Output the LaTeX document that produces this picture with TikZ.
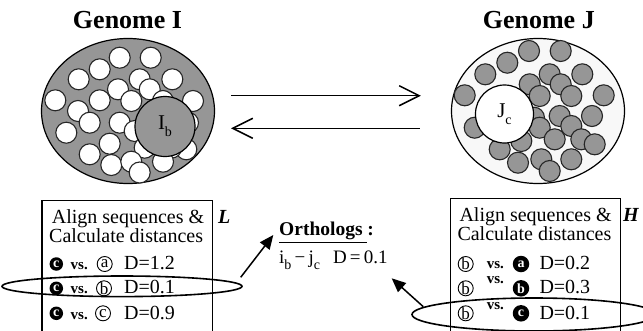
\documentclass[tikz,border=0pt]{standalone}
\usepackage{fontspec}
\setmainfont{Liberation Serif}
\usetikzlibrary{arrows.meta,shapes.geometric,calc}
\definecolor{cellgray}{RGB}{150,150,150}
\definecolor{palefill}{RGB}{248,248,248}
\newcommand{\lowsub}[1]{\raisebox{-0.35em}{\fontsize{14}{14}\selectfont #1}}
\begin{document}
\begin{tikzpicture}[x=1pt,y=-1pt,
  title/.style={font=\fontsize{26}{30}\selectfont\bfseries, anchor=base, inner sep=0},
  body/.style={font=\fontsize{20}{24}\selectfont, anchor=base west, inner sep=0},
  tag/.style={font=\fontsize{20}{24}\selectfont\bfseries\itshape, anchor=base west, inner sep=0},
  vsword/.style={font=\fontsize{15}{15}\selectfont\bfseries, anchor=base west, inner sep=0},
  genome/.style={ellipse, draw, line width=1.2pt, minimum width=173pt, minimum height=145pt, inner sep=0},
  wcell/.style={draw=black!85, fill=white, line width=1.1pt},
  gcell/.style={draw=black!85, fill=cellgray, line width=1.1pt},
  bigcell/.style={circle, draw, line width=1.2pt, inner sep=0, font=\fontsize{21}{21}\selectfont},
  panel/.style={draw, line width=1.3pt, anchor=north west, inner sep=0, minimum height=160pt},
  ring/.style={ellipse, draw, line width=1.6pt, inner sep=0},
  blk/.style={circle, fill=black, text=white, inner sep=0, font=\fontsize{14}{14}\selectfont\bfseries},
  wht/.style={circle, draw, line width=0.9pt, inner sep=0, minimum size=15pt, font=\fontsize{17}{17}\selectfont},
  swap/.style={line width=1.5pt, -{Straight Barb[length=20pt,width=20pt,line width=1.5pt]}},
  pick/.style={line width=1.5pt, -{Triangle[length=14pt,width=12pt]}}
]
\useasboundingbox (0,0) rectangle (643,330);
\clip (0,0) rectangle (643,330);

% titles
\node[title] (titleI) at (127.5,28.3) {Genome I};
\node[title] (titleJ) at (538.8,28) {Genome J};

% genome I: white genes on a gray background
\node[genome, fill=cellgray] (gI) at (128,111) {};
\foreach \x/\y in {119.7/57.7, 150.7/57.7, 99.7/69.3, 78.7/79.3, 172.3/79.3,
  139.7/79.3, 118/89.3, 149.7/89.3, 55.3/100.3, 99.7/100.3, 131.3/101,
  193/101, 163/101, 78/111, 89.7/122.7, 119.7/122.7, 66.3/132.7, 134.7/131,
  188/122.7, 109.7/143.7, 89.7/154.3, 144.7/147.7, 186.3/149.3, 171.3/147.7,
  111.3/165, 131.3/161.7, 163/161.7, 139.7/172.5}
  \filldraw[wcell] (\x,\y) circle[radius=10.5];
\node[bigcell, fill=cellgray, minimum size=60pt] (Ib) at (165,126.5) {I\lowsub{b}};

% genome J: gray genes on a pale background
\node[genome, fill=palefill] (gJ) at (538,111) {};
\foreach \x/\y in {529/51, 560.7/51, 507.3/62.7, 485.3/74.3, 549.7/74.3,
  582.3/74.3, 529.7/84.3, 560.7/84.3, 464.7/95.3, 539.7/96, 571.3/96,
  603.7/95.3, 474.7/127.7, 559.7/116, 592/116, 534/117.7, 539.7/127.7,
  571.3/126, 499.7/149.3, 521.3/141, 554.7/139.3, 581.3/139.3, 594.7/144.3,
  518/162.7, 541.3/159.3, 571.3/159.3, 549.7/171}
  \filldraw[gcell] (\x,\y) circle[radius=10.5];
\node[bigcell, fill=white, minimum size=58pt] (Jc) at (504.5,114) {J\lowsub{c}};

% reciprocal search arrows
\draw[swap] ($(gI.east)+(16,-15.3)$) -- ($(gJ.west)+(-30,-15.3)$);
\draw[swap] ($(gJ.west)+(-31,17.3)$) -- ($(gI.east)+(16,17.3)$);

% distance panels
\node[panel, minimum width=170.7pt] (boxL) at (41.3,200) {};
\node[panel, minimum width=170pt] (boxH) at (450,198) {};
\node[tag] (tagL) at (218,223) {L};
\node[tag] (tagH) at (623,221) {H};

\node[body] (l1) at (51.7,223) {Align sequences \&};
\node[body] (l2) at (49,242.7) {Calculate distances};
\node[body] (h1) at (459.3,221) {Align sequences \&};
\node[body] (h2) at (457.3,240) {Calculate distances};

% rows of the left panel
\node[blk, minimum size=13.5pt] (lc1) at (56.3,264) {c};
\node[vsword] (lv1) at (70.5,269) {vs.};
\node[wht] (lw1) at (104.7,264) {a};
\node[body] (ld1) at (124,269) {D=1.2};
\node[blk, minimum size=13.5pt] (lc2) at (56.3,288.3) {c};
\node[vsword] (lv2) at (70.5,293.3) {vs.};
\node[wht] (lw2) at (104,288.3) {b};
\node[body] (ld2) at (124,293.3) {D=0.1};
\node[blk, minimum size=13.5pt] (lc3) at (56.3,313.3) {c};
\node[vsword] (lv3) at (70.5,319) {vs.};
\node[wht] (lw3) at (103,313.3) {c};
\node[body] (ld3) at (124,319) {D=0.9};

% rows of the right panel
\node[wht] (hw1) at (465.7,264) {b};
\node[vsword] (hv1) at (486.7,268.3) {vs.};
\node[blk, minimum size=16.5pt] (hb1) at (521,264) {a};
\node[body] (hd1) at (539.3,269) {D=0.2};
\node[wht] (hw2) at (465.7,288.3) {b};
\node[vsword] (hv2) at (486.7,283.3) {vs.};
\node[blk, minimum size=16.5pt] (hb2) at (521,288.3) {b};
\node[body] (hd2) at (539.3,293.3) {D=0.3};
\node[wht] (hw3) at (465.7,313.3) {b};
\node[vsword] (hv3) at (486.7,309) {vs.};
\node[blk, minimum size=16.5pt] (hb3) at (521,313.3) {c};
\node[body] (hd3) at (539.3,319) {D=0.1};

% best hits
\node[ring, minimum width=240pt, minimum height=20.6pt] (selL) at (122,286.3) {};
\node[ring, minimum width=244pt, minimum height=33pt] (selH) at (534,314.5) {};

% ortholog result
\node[font=\fontsize{19.5}{22}\selectfont\bfseries, anchor=base west, inner sep=0] (orth) at (279,235) {Orthologs :};
\draw[line width=1.3pt] ($(orth.base west)+(0,7.3)$) -- ++(88,0);
\node[font=\fontsize{19}{22}\selectfont, anchor=base west, inner sep=0] (res) at (279,263.3) {i\lowsub{b}\,−\,j\lowsub{c}\hspace{13pt}D\,=\,0.1};

\coordinate (tailL) at (240.7,277.3);
\coordinate (tipL) at (273.3,235);
\coordinate (tailH) at (423.3,306.7);
\coordinate (tipH) at (391.7,278.3);
\draw[pick] (tailL) -- (tipL);
\draw[pick] (tailH) -- (tipH);
\end{tikzpicture}
\end{document}
